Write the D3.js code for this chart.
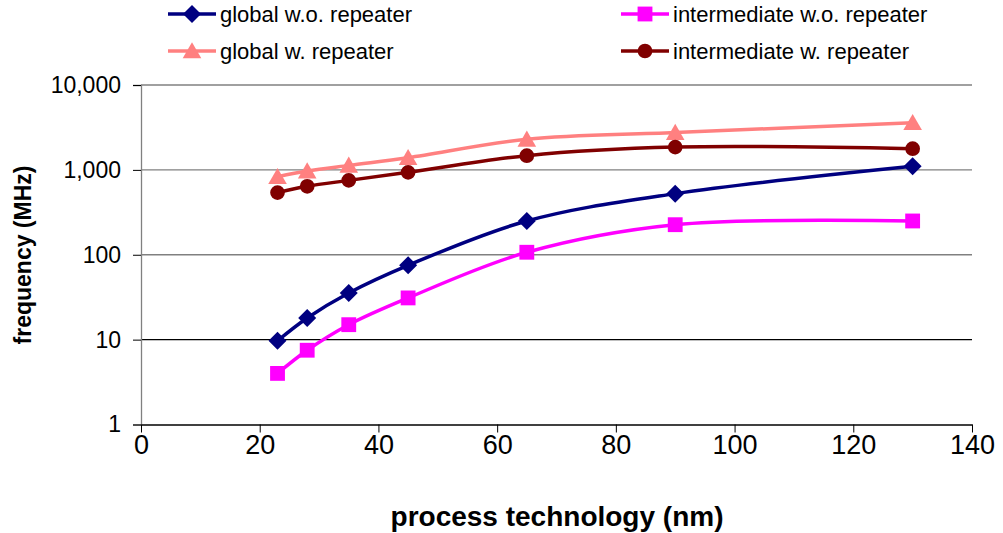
<!DOCTYPE html>
<html>
<head>
<meta charset="utf-8">
<script src="https://cdn.jsdelivr.net/npm/d3@7"></script>
<style>
  body { margin: 0; background: #fff; }
  text { font-family: "Liberation Sans", Arial, sans-serif; }
</style>
</head>
<body>
<div id="box"></div>
<script>
// process technology (nm) on x, frequency (MHz) on a log y axis
var nodes = [23, 28, 35, 45, 65, 90, 130];
var globalNoRep = [9.7, 18, 35.5, 75, 250, 525, 1100];
var interNoRep = [4.0, 7.5, 15, 31, 107, 226, 250];
var globalRep = [830, 968, 1130, 1390, 2290, 2750, 3600];
var interRep = [540, 640, 752, 935, 1470, 1855, 1775];
var seriesNames = ["global w.o. repeater", "intermediate w.o. repeater", "global w. repeater", "intermediate w. repeater"];
var xTicks = [0, 20, 40, 60, 80, 100, 120, 140];
var yTicks = [1, 10, 100, 1000, 10000];

var width = 1003;
var height = 533;
var plotLeft = 141, plotRight = 972, plotTop = 85, plotBottom = 424.5;

var svg = d3.select("#box").append("svg")
  .attr("width", width)
  .attr("height", height);

var x = d3.scaleLinear().domain([0, 140]).range([plotLeft, plotRight]);
var y = d3.scaleLog().domain([1, 10000]).range([plotBottom, plotTop]);

// gridlines (the 10 line is black in the original)
svg.selectAll("line.grid")
  .data(yTicks.filter(function(d) { return d > 1; }))
  .enter().append("line")
  .attr("class", "grid")
  .attr("x1", plotLeft).attr("x2", plotRight)
  .attr("y1", function(d) { return y(d); })
  .attr("y2", function(d) { return y(d); })
  .attr("stroke", function(d) { return d == 10 ? "#000" : "#808080"; })
  .attr("stroke-width", 1.3);

// y axis
var yAxis = svg.append("g")
  .attr("transform", "translate(" + plotLeft + ",0)")
  .call(d3.axisLeft(y).tickValues(yTicks).tickSize(8).tickPadding(12)
    .tickFormat(d3.format(",")));
yAxis.select(".domain").attr("stroke", "#808080").attr("stroke-width", 1.3);
yAxis.selectAll(".tick line").attr("stroke", "#000");
yAxis.selectAll("text").attr("font-size", 23).attr("fill", "#000")
  .style("font-family", "Liberation Sans, Arial, sans-serif");

// x axis
var xAxis = svg.append("g")
  .attr("transform", "translate(0," + plotBottom + ")")
  .call(d3.axisBottom(x).tickValues(xTicks).tickSize(8).tickPadding(2)
    .tickSizeOuter(0));
xAxis.select(".domain").attr("stroke", "#000").attr("stroke-width", 1.3);
xAxis.selectAll(".tick line").attr("stroke", "#000");
xAxis.selectAll("text").attr("font-size", 27).attr("fill", "#000")
  .style("font-family", "Liberation Sans, Arial, sans-serif");

// axis titles
svg.append("text")
  .attr("x", 557).attr("y", 526)
  .attr("text-anchor", "middle")
  .attr("font-size", 28).attr("font-weight", "bold")
  .text("process technology (nm)");

svg.append("text")
  .attr("transform", "translate(31,255) rotate(-90)")
  .attr("text-anchor", "middle")
  .attr("font-size", 23).attr("font-weight", "bold")
  .text("frequency (MHz)");

var series = [
  { name: seriesNames[0], values: globalNoRep, color: "#000080", marker: "diamond" },
  { name: seriesNames[1], values: interNoRep, color: "#ff00ff", marker: "square" },
  { name: seriesNames[2], values: globalRep, color: "#ff8080", marker: "triangle" },
  { name: seriesNames[3], values: interRep, color: "#800000", marker: "circle" }
];

// excel style diamond: a square turned 45 degrees
var symbols = {
  diamond: function() { return "M0,-9L9,0L0,9L-9,0Z"; },
  square: d3.symbol().type(d3.symbolSquare).size(220),
  triangle: d3.symbol().type(d3.symbolTriangle).size(150),
  circle: d3.symbol().type(d3.symbolCircle).size(170)
};

var line = d3.line()
  .x(function(d) { return x(d[0]); })
  .y(function(d) { return y(d[1]); })
  .curve(d3.curveCatmullRom.alpha(0.5));

// draw in reverse so the dark series sit on top like the original
var order = [2, 3, 1, 0];
order.forEach(function(i) {
  var s = series[i];
  var pts = nodes.map(function(n, j) { return [n, s.values[j]]; });
  svg.append("path")
    .datum(pts)
    .attr("d", line)
    .attr("fill", "none")
    .attr("stroke", s.color)
    .attr("stroke-width", 3.5);
  svg.selectAll("path.m" + i)
    .data(pts)
    .enter().append("path")
    .attr("class", "m" + i)
    .attr("d", symbols[s.marker])
    .attr("transform", function(d) {
      var dy = s.marker == "triangle" ? 2 : 0;
      return "translate(" + x(d[0]) + "," + (y(d[1]) + dy) + ")";
    })
    .attr("fill", s.color);
});

// legend
var legendPos = [
  { lx: 168, ty: 14 },
  { lx: 621, ty: 14 },
  { lx: 168, ty: 51 },
  { lx: 621, ty: 51 }
];
series.forEach(function(s, i) {
  var p = legendPos[i];
  var g = svg.append("g");
  g.append("line")
    .attr("x1", p.lx).attr("x2", p.lx + 48)
    .attr("y1", p.ty).attr("y2", p.ty)
    .attr("stroke", s.color).attr("stroke-width", 3.5);
  g.append("path")
    .attr("d", symbols[s.marker])
    .attr("transform", "translate(" + (p.lx + 24) + "," + (p.ty + (s.marker == "triangle" ? 2 : 0)) + ")")
    .attr("fill", s.color);
  g.append("text")
    .attr("x", p.lx + 52).attr("y", p.ty + 8)
    .attr("font-size", 22)
    .text(s.name);
});
</script>
</body>
</html>
